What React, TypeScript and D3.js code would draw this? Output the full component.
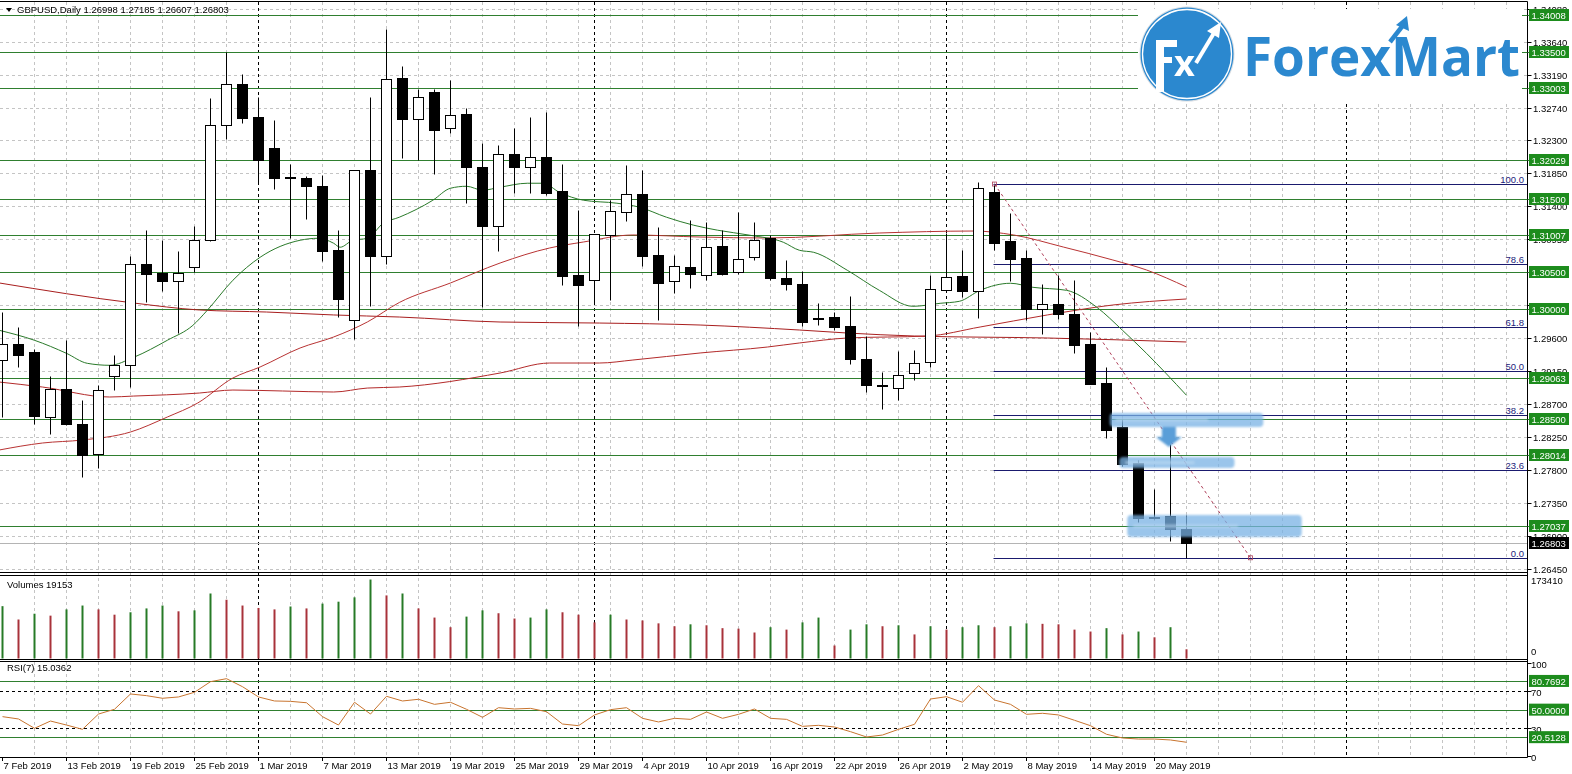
import * as React from 'react'
import * as d3 from 'd3'

// trading days shown on the chart (Feb 7 .. May 22 2019)
const dates = [
    '7 Feb', '8 Feb', '11 Feb', '12 Feb', '13 Feb', '14 Feb', '15 Feb', '18 Feb', '19 Feb', '20 Feb',
    '21 Feb', '22 Feb', '25 Feb', '26 Feb', '27 Feb', '28 Feb', '1 Mar', '4 Mar', '5 Mar', '6 Mar',
    '7 Mar', '8 Mar', '11 Mar', '12 Mar', '13 Mar', '14 Mar', '15 Mar', '18 Mar', '19 Mar', '20 Mar',
    '21 Mar', '22 Mar', '25 Mar', '26 Mar', '27 Mar', '28 Mar', '29 Mar', '1 Apr', '2 Apr', '3 Apr',
    '4 Apr', '5 Apr', '8 Apr', '9 Apr', '10 Apr', '11 Apr', '12 Apr', '15 Apr', '16 Apr', '17 Apr',
    '18 Apr', '19 Apr', '22 Apr', '23 Apr', '24 Apr', '25 Apr', '26 Apr', '29 Apr', '30 Apr', '1 May',
    '2 May', '3 May', '6 May', '7 May', '8 May', '9 May', '10 May', '13 May', '14 May', '15 May',
    '16 May', '17 May', '20 May', '21 May', '22 May',
]

const opens = [
    1.29307, 1.29525, 1.29411, 1.28525, 1.28912, 1.28435, 1.28026, 1.29080, 1.29230, 1.30616,
    1.30488, 1.30379, 1.30570, 1.30944, 1.32498, 1.33059, 1.32610, 1.32187, 1.31800, 1.31780,
    1.31677, 1.30807, 1.29843, 1.31889, 1.30725, 1.33140, 1.32581, 1.32954, 1.32459, 1.32655,
    1.31937, 1.31132, 1.32106, 1.31937, 1.32070, 1.31602, 1.30456, 1.30395, 1.31010, 1.31316,
    1.31570, 1.30739, 1.30379, 1.30570, 1.30466, 1.30852, 1.30502, 1.30709, 1.30971, 1.30425,
    1.30343, 1.29870, 1.29888, 1.29761, 1.29321, 1.28957, 1.28925, 1.29130, 1.29275, 1.30262,
    1.30443, 1.30243, 1.31593, 1.30925, 1.30698, 1.30003, 1.30071, 1.29935, 1.29516, 1.28988,
    1.28388, 1.27903, 1.27161, 1.27171, 1.26998,
]
const highs = [
    1.29956, 1.29752, 1.29457, 1.29080, 1.29580, 1.28762, 1.28966, 1.29376, 1.30716, 1.31080,
    1.30944, 1.30788, 1.31125, 1.32866, 1.33504, 1.33196, 1.32880, 1.32569, 1.31971, 1.31807,
    1.31827, 1.31070, 1.31898, 1.32880, 1.33807, 1.33308, 1.32999, 1.32999, 1.33117, 1.32732,
    1.32264, 1.32233, 1.32465, 1.32615, 1.32683, 1.31971, 1.31343, 1.31023, 1.31477, 1.31957,
    1.31898, 1.31115, 1.30729, 1.31207, 1.31184, 1.31070, 1.31320, 1.31184, 1.31000, 1.30671,
    1.30515, 1.30079, 1.29956, 1.30170, 1.29625, 1.29138, 1.29420, 1.29444, 1.30466, 1.31030,
    1.30807, 1.31725, 1.31684, 1.31306, 1.30798, 1.30344, 1.30457, 1.30389, 1.29684, 1.29206,
    1.28503, 1.27934, 1.27548, 1.28162, 1.27185,
]
const lows = [
    1.28525, 1.29206, 1.28435, 1.28298, 1.28420, 1.27707, 1.27835, 1.28898, 1.28934, 1.30093,
    1.30243, 1.29670, 1.30502, 1.30930, 1.32311, 1.32527, 1.31710, 1.31637, 1.30971, 1.31220,
    1.30654, 1.29888, 1.29594, 1.30034, 1.30616, 1.32049, 1.32028, 1.31836, 1.32390, 1.31444,
    1.30025, 1.30792, 1.31574, 1.31574, 1.31547, 1.30320, 1.29761, 1.30061, 1.30125, 1.31193,
    1.30580, 1.29853, 1.30215, 1.30284, 1.30398, 1.30457, 1.30471, 1.30661, 1.30398, 1.30262,
    1.29761, 1.29785, 1.29706, 1.29253, 1.28866, 1.28639, 1.28752, 1.29035, 1.29206, 1.30252,
    1.30161, 1.29880, 1.30797, 1.30379, 1.29843, 1.29662, 1.29866, 1.29397, 1.28970, 1.28238,
    1.27852, 1.27093, 1.27139, 1.26834, 1.26607,
]
const closes = [
    1.29525, 1.29376, 1.28534, 1.28902, 1.28435, 1.28002, 1.28889, 1.29239, 1.30616, 1.30480,
    1.30379, 1.30488, 1.30944, 1.32498, 1.33059, 1.32604, 1.32028, 1.31787, 1.31787, 1.31680,
    1.30791, 1.30139, 1.31898, 1.30725, 1.33125, 1.32581, 1.32886, 1.32442, 1.32640, 1.31928,
    1.31132, 1.32106, 1.31937, 1.32070, 1.31578, 1.30447, 1.30320, 1.31023, 1.31327, 1.31561,
    1.30720, 1.30352, 1.30584, 1.30480, 1.30843, 1.30480, 1.30684, 1.30944, 1.30425, 1.30343,
    1.29820, 1.29856, 1.29752, 1.29321, 1.28966, 1.28950, 1.29102, 1.29261, 1.30275, 1.30434,
    1.30243, 1.31643, 1.30898, 1.30684, 1.29993, 1.30071, 1.29935, 1.29512, 1.28980, 1.28353,
    1.27880, 1.27148, 1.27152, 1.26998, 1.26803,
]

const volumes = [
    108700, 81000, 93000, 89000, 102000, 110000, 102000, 91000, 96000, 104000,
    110000, 98000, 100000, 135000, 122000, 110000, 105000, 102000, 108000, 104000,
    114000, 118000, 127000, 164000, 131000, 135000, 104000, 85000, 65000, 87000,
    100000, 94000, 83000, 85000, 102000, 96000, 91000, 75000, 91000, 81000,
    79000, 73000, 67000, 71000, 69000, 63000, 62000, 54000, 65000, 60000,
    75000, 85000, 27000, 60000, 71000, 67000, 69000, 50000, 67000, 60000,
    65000, 69000, 65000, 67000, 73000, 72000, 71000, 60000, 56000, 63000,
    50000, 56000, 44000, 65000, 19153,
]
const volumeMax = 173410

const rsi = [
    42.5, 40.0, 30.0, 37.8, 33.5, 28.9, 45.3, 50.4, 66.8, 65.0,
    62.2, 63.6, 68.6, 80.0, 83.2, 74.6, 63.6, 59.3, 58.9, 57.4,
    42.5, 33.5, 57.9, 45.3, 64.3, 59.3, 61.1, 55.7, 57.9, 50.4,
    41.8, 52.1, 50.7, 51.4, 47.8, 34.6, 32.8, 44.3, 50.0, 52.1,
    40.7, 36.8, 40.7, 39.6, 47.5, 40.7, 45.0, 50.7, 40.7, 39.6,
    32.1, 33.2, 31.4, 26.4, 20.7, 22.8, 28.9, 34.3, 61.4, 63.9,
    57.9, 75.7, 60.3, 55.7, 45.0, 46.1, 44.3, 38.6, 32.8, 23.6,
    19.6, 18.5, 18.5, 17.5, 15.0362,
]
const rsiLevels = [80.7692, 50.0, 20.5128]
const rsiTicks = [100, 70, 30, 0]

// moving averages as [bar index, price]
const maFast: [number, number][] = [
    [-0.2, 1.29707], [2, 1.29571], [4, 1.29393], [5.3, 1.29257], [6.7, 1.29230], [8.2, 1.29339],
    [10.3, 1.29571], [11.9, 1.29775], [12.8, 1.29980], [14.4, 1.30389], [16.1, 1.30702],
    [18.6, 1.30934], [19.7, 1.30961], [20.7, 1.30893], [21.1, 1.30839], [21.9, 1.30934],
    [22.8, 1.30961], [23.8, 1.31166], [24.8, 1.31248], [26.9, 1.31480], [28, 1.31643],
    [29, 1.31670], [30, 1.31616], [31.1, 1.31657], [32.8, 1.31711], [33.8, 1.31711],
    [34.8, 1.31588], [36.3, 1.31480], [38.4, 1.31439], [39.8, 1.31385], [41.5, 1.31248],
    [43.2, 1.31139], [44.7, 1.31071], [46.7, 1.31003], [48.8, 1.30907], [49.8, 1.30798],
    [50.7, 1.30770], [52.8, 1.30525], [54.8, 1.30252], [56.9, 1.30034], [58.6, 1.30075],
    [59.8, 1.30102], [61.1, 1.30252], [63, 1.30348], [64.4, 1.30293], [66.5, 1.30252],
    [68.4, 1.30020], [70, 1.29707], [71.5, 1.29393], [74, 1.28821],
]
const maMid: [number, number][] = [
    [-0.2, 1.28076], [2.5, 1.28171], [5, 1.28212], [8, 1.28321], [10.3, 1.28525], [12.2, 1.28716],
    [14.4, 1.29057], [16.1, 1.29207], [18.6, 1.29466], [20.7, 1.29616], [22.8, 1.29820],
    [24.8, 1.30086], [28, 1.30352], [31.1, 1.30624], [34.2, 1.30829], [36.3, 1.30910],
    [39.4, 1.31006], [43.6, 1.30978], [47.8, 1.30965], [54.8, 1.31033], [60.7, 1.31060],
    [63.2, 1.31006], [66.3, 1.30842], [69.4, 1.30665], [71.5, 1.30529], [74, 1.30297],
]
const maSlow: [number, number][] = [
    [-0.2, 1.29002], [2.5, 1.28934], [6.7, 1.28798], [8.2, 1.28811], [12.3, 1.28852],
    [14.4, 1.28893], [17.5, 1.28880], [20.7, 1.28866], [22.8, 1.28920], [24.8, 1.28934],
    [31.1, 1.29125], [34.2, 1.29261], [37.3, 1.29261], [39.4, 1.29302], [43.6, 1.29398],
    [47.8, 1.29479], [49.8, 1.29534], [52.8, 1.29602], [57.8, 1.29629], [61.1, 1.29752],
    [65.3, 1.29916], [69.4, 1.30052], [74, 1.30134],
]
const maLong: [number, number][] = [
    [-0.2, 1.30352], [8.2, 1.30079], [12.3, 1.29984], [16.5, 1.29956], [20.7, 1.29916],
    [24.8, 1.29888], [31.1, 1.29820], [37.3, 1.29806], [43.6, 1.29779], [49.8, 1.29711],
    [52.8, 1.29670], [57, 1.29629], [65.3, 1.29602], [74, 1.29548],
]

const levels = [1.34008, 1.335, 1.33003, 1.32029, 1.315, 1.31007, 1.305, 1.3, 1.29063, 1.285, 1.28014, 1.27037]
const priceTicks = [1.3408, 1.3364, 1.3319, 1.3274, 1.323, 1.3185, 1.314, 1.3095, 1.305, 1.3005,
    1.296, 1.2915, 1.287, 1.2825, 1.278, 1.2735, 1.269, 1.2645]
const lastPrice = 1.26803

const fibHigh = 1.317
const fibLow = 1.26607
const fibStart = 62
const fibEnd = 78
const fibRatios = [100, 78.6, 61.8, 50, 38.2, 23.6, 0]

// hand drawn highlight strokes
const zoneStart = [69.2, 69.8, 70.3]
const zoneEnd = [78.8, 77, 81.2]
const zoneTop = [1.2858, 1.2798, 1.2719]
const zoneBottom = [1.2839, 1.2783, 1.2689]
const arrowBar = 72.9
const arrowTop = 1.2839
const arrowTip = 1.28118

const futureSeparator = 84

const AX = 1527.5
const fmt = (v: number) => v.toFixed(5)

export default function App() {
    const x = d3.scaleLinear().domain([0, 74]).range([2.5, 1186.5])
    const yP = d3.scaleLinear().domain([1.2645, 1.3364]).range([569.3, 41.7])
    const yV = d3.scaleLinear().domain([0, volumeMax]).range([658.5, 575])
    const yR = d3.scaleLinear().domain([0, 100]).range([756.3, 663])
    const px = (v: number) => Math.round(yP(v)) + 0.5

    const maLine = d3.line<[number, number]>().x(d => x(d[0])).y(d => yP(d[1])).curve(d3.curveMonotoneX)
    const rsiLine = d3.line<number>().x((_, i) => x(i)).y(d => yR(d))

    const gridBars = d3.range(2, 96, 2)
    const separators = dates
        .map((d, i) => (i > 0 && d.split(' ')[1] !== dates[i - 1].split(' ')[1] ? i : -1))
        .filter(i => i >= 0)
        .concat([futureSeparator])

    const fibPrice = (r: number) => fibLow + (fibHigh - fibLow) * r / 100

    return (
        <svg width={1572} height={774} style={{ position: 'absolute', left: 0, top: 0, background: '#fff' }}
            fontFamily="'Liberation Sans', Arial, sans-serif" fontSize={9.5}>
            <defs>
                <clipPath id="main"><rect x={0} y={2} width={AX} height={570} /></clipPath>
                <filter id="soft"><feGaussianBlur stdDeviation={0.9} /></filter>
            </defs>
            <rect width={1572} height={774} fill="#fff" />

            {/* grid */}
            <g stroke="#c4c4c4" strokeDasharray="3,3" strokeWidth={1}>
                {priceTicks.map(t => <line key={t} x1={0} x2={AX} y1={px(t)} y2={px(t)} />)}
                {gridBars.map(i => <line key={i} x1={x(i)} x2={x(i)} y1={2} y2={757} />)}
            </g>
            <g stroke="#000" strokeDasharray="3,3" strokeWidth={1}>
                {separators.map(i => <line key={i} x1={x(i)} x2={x(i)} y1={2} y2={757} />)}
            </g>

            <g clipPath="url(#main)">
                {/* support / resistance */}
                {levels.map(l => <line key={l} x1={0} x2={AX} y1={px(l)} y2={px(l)} stroke="#2f7f2f" />)}
                <line x1={0} x2={AX} y1={px(lastPrice)} y2={px(lastPrice)} stroke="#b4b4b4" />

                {/* fibonacci */}
                {fibRatios.map(r => (
                    <g key={r}>
                        <line x1={x(fibStart) - 1} x2={AX} y1={px(fibPrice(r))} y2={px(fibPrice(r))} stroke="#1a1a6e" />
                        <text x={1524} y={px(fibPrice(r)) - 2} textAnchor="end" fill="#22227a">{r.toFixed(1)}</text>
                    </g>
                ))}
                <line x1={x(fibStart)} y1={yP(fibHigh)} x2={x(fibEnd)} y2={yP(fibLow)} stroke="#b0405a" strokeDasharray="3,3" />
                <rect x={x(fibStart) - 2} y={yP(fibHigh) - 2} width={4} height={4} fill="none" stroke="#b0405a" strokeWidth={0.8} />
                <rect x={x(fibEnd) - 2} y={yP(fibLow) - 2} width={4} height={4} fill="none" stroke="#b0405a" strokeWidth={0.8} />

                {/* moving averages */}
                <path d={maLine(maLong) || ''} fill="none" stroke="#a81e1e" />
                <path d={maLine(maSlow) || ''} fill="none" stroke="#b32a2a" />
                <path d={maLine(maMid) || ''} fill="none" stroke="#b83333" />
                <path d={maLine(maFast) || ''} fill="none" stroke="#2a7a2a" />

                {/* candles */}
                {dates.map((d, i) => {
                    const cx = x(i)
                    const top = px(Math.max(opens[i], closes[i]))
                    const bot = px(Math.min(opens[i], closes[i]))
                    const up = closes[i] >= opens[i]
                    return (
                        <g key={d}>
                            <line x1={cx} x2={cx} y1={px(highs[i])} y2={px(lows[i])} stroke="#000" />
                            {bot - top < 1
                                ? <line x1={cx - 5} x2={cx + 6} y1={top} y2={top} stroke="#000" strokeWidth={1.5} />
                                : <rect x={cx - 5} y={top} width={10} height={bot - top}
                                    fill={up ? '#fff' : '#000'} stroke="#000" />}
                        </g>
                    )
                })}

                {/* highlight strokes */}
                <g filter="url(#soft)">
                    {zoneStart.map((s, k) => (
                        <g key={k}>
                            <rect x={x(s)} y={yP(zoneTop[k])} width={x(zoneEnd[k]) - x(s)}
                                height={yP(zoneBottom[k]) - yP(zoneTop[k])} rx={4}
                                fill="#78b1e4" opacity={0.75} />
                            <rect x={x(s) + 6} y={(yP(zoneTop[k]) + yP(zoneBottom[k])) / 2 - 1.5}
                                width={(x(zoneEnd[k]) - x(s)) * 0.6} height={3} fill="#b9d8f2" opacity={0.6} />
                        </g>
                    ))}
                    <polygon fill="#5a9ed8" points={[
                        [x(arrowBar) - 7, yP(arrowTop)], [x(arrowBar) + 7, yP(arrowTop)],
                        [x(arrowBar) + 7, yP(arrowTop) + 10], [x(arrowBar) + 13, yP(arrowTop) + 10],
                        [x(arrowBar), yP(arrowTip)], [x(arrowBar) - 13, yP(arrowTop) + 10],
                        [x(arrowBar) - 7, yP(arrowTop) + 10],
                    ].map(p => p.join(',')).join(' ')} />
                </g>
            </g>

            {/* volumes */}
            {volumes.map((v, i) => (
                <line key={i} x1={x(i)} x2={x(i)} y1={yV(0)} y2={yV(v)} strokeWidth={2}
                    stroke={i === 0 || v > volumes[i - 1] ? '#267a26' : '#a8323a'} />
            ))}

            {/* rsi */}
            {rsiLevels.map(l => <line key={l} x1={0} x2={AX} y1={Math.round(yR(l)) + 0.5} y2={Math.round(yR(l)) + 0.5} stroke="#2f7f2f" />)}
            {[70, 30].map(l => <line key={l} x1={0} x2={AX} y1={Math.round(yR(l)) + 0.5} y2={Math.round(yR(l)) + 0.5} stroke="#000" strokeDasharray="3,3" />)}
            <path d={rsiLine(rsi) || ''} fill="none" stroke="#c8742e" />

            {/* frames */}
            <g stroke="#000" fill="none">
                <line x1={0} x2={AX} y1={1.5} y2={1.5} />
                <line x1={0} x2={AX} y1={572.5} y2={572.5} />
                <line x1={0} x2={AX} y1={575.5} y2={575.5} />
                <line x1={0} x2={AX} y1={659.5} y2={659.5} />
                <line x1={0} x2={AX} y1={661.5} y2={661.5} />
                <line x1={0} x2={AX} y1={757.5} y2={757.5} />
                <line x1={AX} x2={AX} y1={1.5} y2={757.5} />
            </g>

            {/* logo */}
            <g>
                <rect x={1138} y={9} width={384} height={92} fill="#fff" />
                <circle cx={1187} cy={54} r={47.5} fill="#d8dde2" />
                <circle cx={1187} cy={54} r={46.5} fill="#2b88cf" />
                <circle cx={1187} cy={54} r={44.5} fill="none" stroke="#fff" strokeWidth={1.3} />
                <rect x={1156} y={40} width={8} height={52} fill="#fff" />
                <rect x={1156} y={40} width={21} height={7} fill="#fff" />
                <rect x={1156} y={57} width={16} height={6} fill="#fff" />
                <text x={1174} y={76} fill="#fff" fontFamily="'Open Sans', sans-serif" fontWeight={700} fontSize={36}>x</text>
                <line x1={1196} y1={63} x2={1214} y2={33} stroke="#fff" strokeWidth={4} />
                <polygon points="1221,22 1219,38 1207,31" fill="#fff" />
                <text x={1243} y={76} fill="#2b88cf" fontFamily="'Open Sans', sans-serif" fontWeight={700}
                    fontSize={53} textLength={277} lengthAdjust="spacingAndGlyphs">ForexMart</text>
                <line x1={1390} y1={42} x2={1404} y2={24} stroke="#2b88cf" strokeWidth={4.5} />
                <polygon points="1407,16 1409,31 1396,25" fill="#2b88cf" />
            </g>

            {/* header and panel titles */}
            <polygon points="6,8 12,8 9,12" fill="#000" />
            <text x={17} y={13} fill="#000">GBPUSD,Daily  {[opens[74], highs[74], lows[74], closes[74]].map(fmt).join(' ')}</text>
            <text x={7} y={588} fill="#000">Volumes {volumes[74]}</text>
            <text x={7} y={671} fill="#000">RSI(7) {rsi[74].toFixed(4)}</text>

            {/* price axis */}
            {priceTicks.map(t => (
                <g key={t}>
                    <line x1={AX} x2={AX + 4} y1={px(t)} y2={px(t)} stroke="#000" />
                    <text x={1533} y={px(t) + 3.5} fill="#000">{fmt(t)}</text>
                </g>
            ))}
            {levels.map(l => (
                <g key={l}>
                    <line x1={AX} x2={AX + 4} y1={px(l)} y2={px(l)} stroke="#2f7f2f" />
                    <rect x={1529} y={px(l) - 6.5} width={40} height={12} fill="#1d8c1d" />
                    <text x={1531.5} y={px(l) + 3.5} fill="#fff">{fmt(l)}</text>
                </g>
            ))}
            <rect x={1529} y={px(lastPrice) - 6.5} width={40} height={12} fill="#000" />
            <text x={1531.5} y={px(lastPrice) + 3.5} fill="#fff">{fmt(lastPrice)}</text>

            {/* volume axis */}
            <text x={1531} y={584} fill="#000">{volumeMax}</text>
            <text x={1531} y={655} fill="#000">0</text>

            {/* rsi axis */}
            {rsiTicks.map(t => (
                <g key={t}>
                    <line x1={AX} x2={AX + 4} y1={Math.round(yR(t)) + 0.5} y2={Math.round(yR(t)) + 0.5} stroke="#000" />
                    <text x={1531} y={yR(t) + 5} fill="#000">{t}</text>
                </g>
            ))}
            {rsiLevels.map(l => (
                <g key={l}>
                    <rect x={1529} y={yR(l) - 6} width={40} height={12} fill="#1d8c1d" />
                    <text x={1531.5} y={yR(l) + 4} fill="#fff">{l.toFixed(4)}</text>
                </g>
            ))}

            {/* time axis */}
            {dates.map((d, i) => i % 4 === 0 ? (
                <g key={d}>
                    <line x1={x(i)} x2={x(i)} y1={757.5} y2={761} stroke="#000" />
                    <text x={x(i) + 1} y={769} fill="#000">{d} 2019</text>
                </g>
            ) : null)}
        </svg>
    )
}
